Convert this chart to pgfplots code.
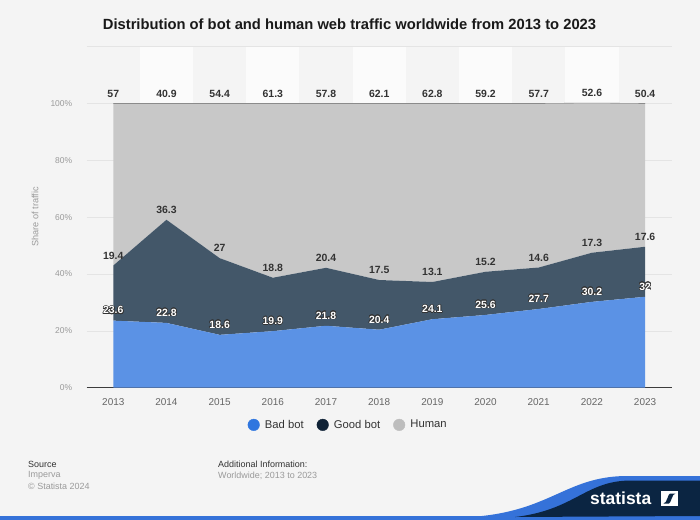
\documentclass[border=0pt]{standalone}
\usepackage{pgfplots}
\pgfplotsset{compat=1.18}
\usepackage{pgfplotstable}
\usepackage{fontspec}
\setmainfont{Liberation Sans}
\usepackage[copies]{contour}
\contourlength{0.55pt}
\definecolor{bg}{HTML}{F4F4F4}
\definecolor{bandc}{HTML}{FBFBFB}
\definecolor{gridc}{HTML}{E4E4E4}
\definecolor{badc}{HTML}{5B92E5}
\definecolor{goodc}{HTML}{435769}
\definecolor{humanc}{HTML}{C8C8C8}
\definecolor{topc}{HTML}{6B6B6B}
\definecolor{legbad}{HTML}{2F76DF}
\definecolor{leggood}{HTML}{0F2236}
\definecolor{leghuman}{HTML}{BDBDBD}
\definecolor{axisc}{HTML}{3C3C3C}
\definecolor{labdark}{HTML}{333333}
\definecolor{tickx}{HTML}{666666}
\definecolor{ticky}{HTML}{9A9A9A}
\definecolor{statblue}{HTML}{3572D9}
\definecolor{statnavy}{HTML}{0B2542}
\pgfplotstableread{
year bad good human
2013 23.6 19.4 57
2014 22.8 36.3 40.9
2015 18.6 27 54.4
2016 19.9 18.8 61.3
2017 21.8 20.4 57.8
2018 20.4 17.5 62.1
2019 24.1 13.1 62.8
2020 25.6 15.2 59.2
2021 27.7 14.6 57.7
2022 30.2 17.3 52.6
2023 32 17.6 50.4
}\traffic
\begin{document}
\begin{tikzpicture}
\fill[bg] (0bp,0bp) rectangle (700bp,-520bp);
\foreach \xa in {139.88,246.25,352.61,458.97,565.34} {
  \fill[bandc] (\xa bp,-387.7bp) rectangle ++(53.18bp,341bp);
}
\node[font=\bfseries\fontsize{14.8}{17}\selectfont, text=black!90] at (349.5bp,-24bp) {Distribution of bot and human web traffic worldwide from 2013 to 2023};
\begin{axis}[
  at={(86.7bp,-387.7bp)}, anchor=south west,
  scale only axis, width=585bp, height=341bp,
  xmin=2012.5, xmax=2023.5, ymin=0, ymax=120,
  stack plots=y,
  clip=false,
  axis line style={draw=none},
  major tick length=0pt,
  xtick={2013,2014,...,2023},
  ytick={0,20,...,100},
  extra y ticks={120}, extra y tick labels={},
  ymajorgrids,
  grid style={draw=gridc, line width=0.7bp},
  extra y tick style={grid style={draw=gridc, line width=0.7bp}},
  /pgf/number format/assume math mode=true,
  yticklabel={\pgfmathprintnumber{\tick}\%},
  x tick label style={/pgf/number format/1000 sep={}, font=\fontsize{10}{12}\selectfont, text=tickx, yshift=-7bp},
  y tick label style={font=\fontsize{8.5}{10}\selectfont, text=ticky, xshift=-11bp},
  legend style={at={(0.447,-0.109)}, anchor=center, draw=none, fill=none,
    legend columns=3, font=\fontsize{11.3}{13}\selectfont, text=labdark,
    /tikz/every even column/.append style={column sep=11bp}},
  every node near coord/.append style={anchor=center, yshift=10bp, font=\bfseries\fontsize{10.5}{12}\selectfont},
]
\addlegendimage{legend image code/.code={\fill[legbad] (0bp,0bp) circle (5.8bp); \path (9bp,0bp);}}
\addlegendentry{Bad bot}
\addlegendimage{legend image code/.code={\fill[leggood] (0bp,0bp) circle (5.8bp); \path (9bp,0bp);}}
\addlegendentry{Good bot}
\addlegendimage{legend image code/.code={\fill[leghuman] (0bp,0bp) circle (5.8bp); \path (9bp,0bp);}}
\addlegendentry{Human}
\addplot[fill=badc, draw=none, forget plot, point meta=explicit,
  nodes near coords={\contour{labdark}{\pgfmathprintnumber[fixed,precision=1]{\pgfplotspointmeta}}},
  every node near coord/.append style={text=white}]
  table[x=year, y=bad, meta=bad]{\traffic} \closedcycle;
\addplot[fill=goodc, draw=none, forget plot, point meta=explicit,
  nodes near coords={\pgfmathprintnumber[fixed,precision=1]{\pgfplotspointmeta}},
  every node near coord/.append style={text=labdark}]
  table[x=year, y=good, meta=good]{\traffic} \closedcycle;
\addplot[fill=humanc, draw=none, forget plot, point meta=explicit,
  nodes near coords={\pgfmathprintnumber[fixed,precision=1]{\pgfplotspointmeta}},
  every node near coord/.append style={text=labdark}]
  table[x=year, y=human, meta=human]{\traffic} \closedcycle;
\addplot[forget plot, stack plots=false, draw=topc, line width=0.8bp, mark=none]
  table[x=year, y expr=\thisrow{bad}+\thisrow{good}+\thisrow{human}]{\traffic};
\draw[axisc, line width=1bp] (axis cs:2012.5,0) -- (axis cs:2023.5,0);
\end{axis}
\node[rotate=90, font=\fontsize{9.2}{11}\selectfont, text=ticky] at (35bp,-217bp) {Share of traffic};
% footer
\node[anchor=west, inner sep=0pt, font=\fontsize{9}{11}\selectfont, text=labdark] at (28bp,-464.7bp) {Source};
\node[anchor=west, inner sep=0pt, font=\fontsize{9}{11}\selectfont, text=ticky] at (28bp,-475.7bp) {Imperva};
\node[anchor=west, inner sep=0pt, font=\fontsize{9}{11}\selectfont, text=ticky] at (28bp,-486.7bp) {© Statista 2024};
\node[anchor=west, inner sep=0pt, font=\fontsize{9}{11}\selectfont, text=labdark] at (218bp,-464.7bp) {Additional Information:};
\node[anchor=west, inner sep=0pt, font=\fontsize{9}{11}\selectfont, text=ticky] at (218bp,-475.7bp) {Worldwide; 2013 to 2023};
% logo
\fill[statblue] (0bp,-516bp) rectangle (700bp,-520bp);
\fill[statblue] (470bp,-517bp) .. controls (550bp,-512bp) and (565bp,-477bp) .. (625bp,-476bp) -- (700bp,-476bp) -- (700bp,-517bp) -- cycle;
\fill[statnavy] (515bp,-517bp) .. controls (575bp,-510bp) and (585bp,-481bp) .. (630bp,-480.5bp) -- (700bp,-480.5bp) -- (700bp,-516bp) -- cycle;
\node[anchor=west, inner sep=0pt, font=\bfseries\fontsize{17.5}{19}\selectfont, text=white] at (590bp,-498bp) {statista};
\fill[white] (661bp,-491bp) rectangle (678bp,-506bp);
\fill[statnavy] (663.5bp,-503.5bp) -- (669bp,-503.5bp) .. controls (671bp,-503.5bp) and (672bp,-493.5bp) .. (675.5bp,-493.5bp) -- (670bp,-493.5bp) .. controls (668bp,-493.5bp) and (667bp,-503.5bp) .. (663.5bp,-503.5bp) -- cycle;
\end{tikzpicture}
\end{document}
